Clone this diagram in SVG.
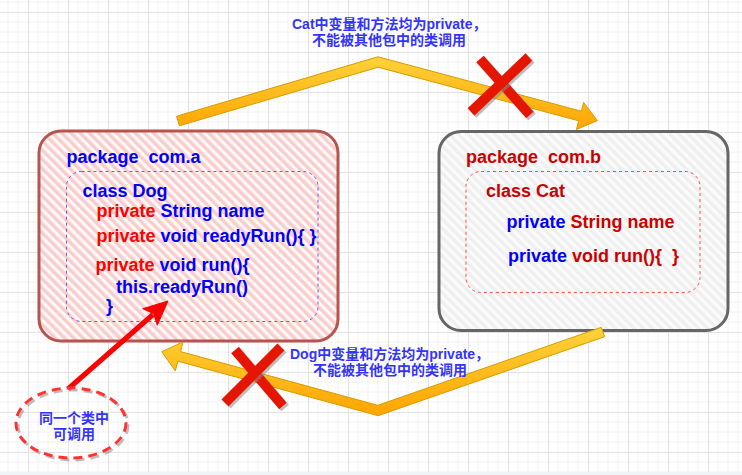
<svg xmlns="http://www.w3.org/2000/svg" width="742" height="475" viewBox="0 0 742 475">
<defs>
  <pattern id="grid" patternUnits="userSpaceOnUse" x="28" y="12" width="40" height="40">
    <path d="M10 0V40M20 0V40M30 0V40M0 10H40M0 20H40M0 30H40" stroke="#f2f2f2" stroke-width="1" fill="none"/>
    <path d="M0.5 0V40M0 0.5H40" stroke="#e2e2e2" stroke-width="1" fill="none"/>
  </pattern>
  <pattern id="hatchA" patternUnits="userSpaceOnUse" width="6.5" height="6.5" patternTransform="rotate(-45)">
    <rect width="6.5" height="6.5" fill="#fff8f8"/>
    <rect width="3.4" height="6.5" fill="#f8cecc"/>
  </pattern>
  <pattern id="hatchB" patternUnits="userSpaceOnUse" width="6.5" height="6.5" patternTransform="rotate(-45)">
    <rect width="6.5" height="6.5" fill="#fbfbfb"/>
    <rect width="3.4" height="6.5" fill="#efefef"/>
  </pattern>
  <linearGradient id="gold" x1="0" y1="0" x2="0" y2="1">
    <stop offset="0" stop-color="#ffd23a"/>
    <stop offset="1" stop-color="#ffa500"/>
  </linearGradient>
  <filter id="shadow" x="-20%" y="-20%" width="140%" height="140%">
    <feDropShadow dx="2" dy="2" stdDeviation="0.6" flood-color="#888" flood-opacity="0.55"/>
  </filter>
  <style>
    .code { font-family: "Liberation Sans", Arial, sans-serif; font-size: 18px; font-weight: bold; }
    .blue { fill: #0000ff; }
    .red { fill: #ff0000; }
    .dred { fill: #cc0000; }
    .lbl { font-family: "Liberation Sans", "Noto Sans CJK SC", sans-serif; font-size: 14px; font-weight: bold; fill: #3333ff; }
    .arrow { fill: url(#gold); stroke: #d79b00; stroke-width: 1; stroke-linejoin: miter; }
    .cross { stroke: #e51400; stroke-width: 10; fill: none; filter: url(#shadow); }
  </style>
</defs>

<rect width="742" height="475" fill="#ffffff"/>
<rect width="742" height="472" fill="url(#grid)"/>
<rect y="472" width="742" height="3" fill="#f1f3f6"/>

<g id="package-a">
  <rect x="39" y="131" width="299" height="210" rx="22" fill="url(#hatchA)" stroke="#b85450" stroke-width="3"/>
  <rect x="66.5" y="171.5" width="251.5" height="150" rx="15" fill="none" stroke="#6f5de0" stroke-width="1" stroke-dasharray="3 3"/>
  <text class="code blue" x="66.5" y="163" xml:space="preserve">package  com.a</text>
  <text class="code blue" x="82.5" y="197">class Dog</text>
  <text class="code" x="96.5" y="217"><tspan class="red">private</tspan><tspan class="blue"> String name</tspan></text>
  <text class="code" x="96.5" y="242"><tspan class="red">private</tspan><tspan class="blue"> void readyRun(){ }</tspan></text>
  <text class="code" x="95.5" y="271"><tspan class="red">private</tspan><tspan class="blue"> void run(){</tspan></text>
  <text class="code blue" x="116" y="293">this.readyRun()</text>
  <text class="code blue" x="106" y="312">}</text>
</g>

<g id="package-b">
  <rect x="439" y="131.5" width="289" height="199" rx="22" fill="url(#hatchB)" stroke="#666666" stroke-width="3"/>
  <rect x="466" y="171.5" width="234" height="121" rx="15" fill="none" stroke="#ff4d4d" stroke-width="1" stroke-dasharray="3 3"/>
  <text class="code dred" x="466" y="163" xml:space="preserve">package  com.b</text>
  <text class="code dred" x="486" y="197">class Cat</text>
  <text class="code" x="506.5" y="227.5"><tspan class="blue">private</tspan><tspan class="dred"> String name</tspan></text>
  <text class="code" x="508" y="262" xml:space="preserve"><tspan class="blue">private</tspan><tspan class="dred"> void run(){  }</tspan></text>
</g>

<g id="connectors">
  <polygon id="arrow-top" class="arrow" points="176.6,116.2 377.9,56.8 581.3,111.2 583.6,102.5 597.4,120.6 576.4,129.5 578.7,120.8 378.1,67.2 179.4,125.8"/>
  <polygon id="arrow-bottom" class="arrow" points="601.4,327.3 377.8,405.3 180.5,351.6 183.1,341.9 161.8,351.7 175.3,370.9 177.9,361.2 378.2,415.7 604.6,336.7"/>
  <g id="arrow-same-class">
    <line x1="68" y1="389" x2="153" y2="314.5" stroke="#ff0000" stroke-width="5"/>
    <polygon points="168,301 157.3,325.3 153.8,313.7 142.7,308.7" fill="#ff0000" stroke="#ff0000" stroke-width="1" stroke-linejoin="miter"/>
  </g>
</g>

<g id="cross-top">
  <line class="cross" x1="480" y1="59" x2="530" y2="115"/>
  <line class="cross" x1="529" y1="57" x2="471" y2="112"/>
</g>

<g id="cross-bottom">
  <line class="cross" x1="235" y1="350" x2="283" y2="406"/>
  <line class="cross" x1="281" y1="347" x2="225" y2="403"/>
</g>

<g id="label-top">
  <text class="lbl" x="292" y="29">Cat中变量和方法均为private，</text>
  <text class="lbl" x="312" y="44.5">不能被其他包中的类调用</text>
</g>

<g id="label-bottom">
  <text class="lbl" x="290" y="359">Dog中变量和方法均为private，</text>
  <text class="lbl" x="313" y="374.5">不能被其他包中的类调用</text>
</g>

<g id="note-same-class">
  <ellipse cx="71" cy="423" rx="55" ry="35" fill="none" stroke="#ff3333" stroke-width="3" stroke-dasharray="9 6" filter="url(#shadow)"/>
  <text class="lbl" x="74" y="423" text-anchor="middle">同一个类中</text>
  <text class="lbl" x="74" y="439" text-anchor="middle">可调用</text>
</g>
</svg>
